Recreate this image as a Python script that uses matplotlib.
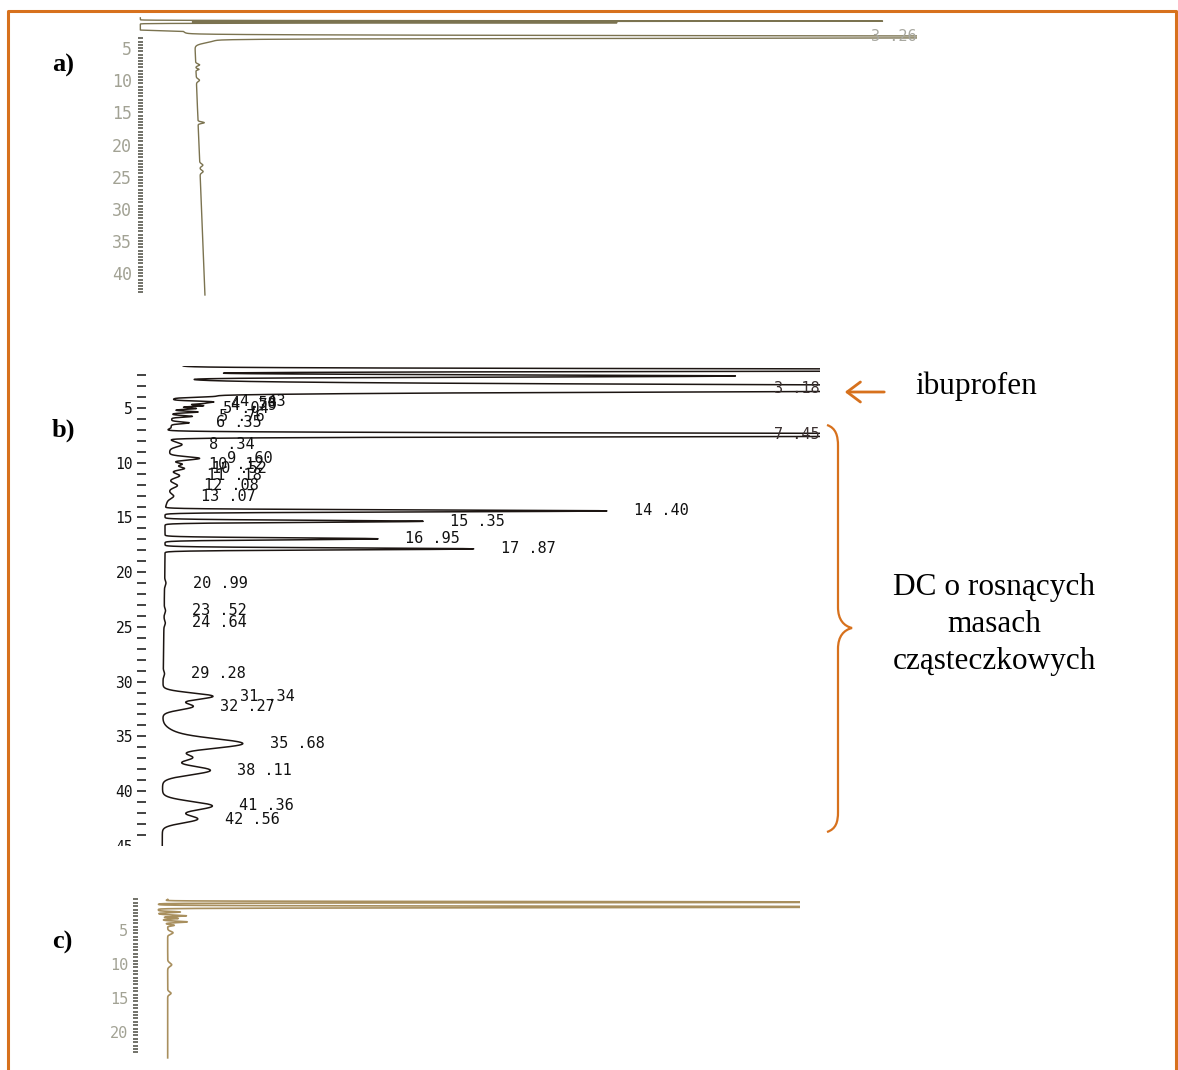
import numpy as np
import matplotlib
matplotlib.use('Agg')
import matplotlib.pyplot as plt
from matplotlib.patches import FancyArrowPatch, PathPatch
from matplotlib.path import Path
from matplotlib.transforms import Bbox, TransformedBbox

W, H = 1178, 1070
ORANGE = '#d7711d'
MONO = 'DejaVu Sans Mono'
SERIF = 'Liberation Serif'

# Chromatogram a) - retention time (min), response (% full scale), peak width (min)
a_peak_t = [0.80, 1.05, 3.26, 3.70, 7.60, 8.30, 10.0, 16.6, 23.2, 24.2]
a_peak_h = [95.3, 61.2, 150.0, 3.0, 0.5, 0.4, 0.4, 0.8, 0.4, 0.4]
a_peak_w = [0.05, 0.05, 0.15, 0.40, 0.15, 0.10, 0.20, 0.12, 0.20, 0.20]
a_base_t = [-0.3, 2.2, 2.4, 4.2, 43.6]
a_base_y = [0.3, 0.3, 5.8, 7.3, 8.6]
a_labelled = [3.26]

# Chromatogram b)
b_peak_t = [1.53, 2.07, 3.18, 3.95, 4.43, 4.58, 4.79, 5.04, 5.36, 5.76, 6.35,
            7.45, 8.34, 9.60, 10.12, 10.52, 11.18, 12.08, 13.07,
            14.40, 15.35, 16.95, 17.87, 20.99, 23.52, 24.64, 29.28,
            31.34, 32.27, 34.80, 35.68, 36.95, 38.11, 41.36, 42.56]
b_peak_h = [170.0, 81.0, 190.0, 4.0, 5.5, 4.0, 4.5, 3.5, 3.8, 3.0, 2.6,
            190.0, 1.8, 4.4, 1.8, 2.2, 1.5, 1.2, 0.7,
            64.7, 37.8, 31.2, 45.2, 0.2, 0.2, 0.2, 0.2,
            7.3, 4.4, 1.5, 11.4, 4.1, 7.0, 7.3, 5.1]
b_peak_w = [0.10, 0.10, 0.25, 0.07, 0.07, 0.07, 0.07, 0.07, 0.07, 0.07, 0.08,
            0.12, 0.20, 0.15, 0.12, 0.15, 0.20, 0.20, 0.20,
            0.09, 0.09, 0.09, 0.09, 0.20, 0.20, 0.20, 0.20,
            0.30, 0.30, 0.50, 0.45, 0.30, 0.40, 0.40, 0.35]
b_base_t = [1.2, 3.6, 4.0, 6.8, 7.1, 8.0, 13.0, 14.2, 18.5, 30.5, 45.0]
b_base_y = [6.6, 6.6, 5.3, 5.0, 4.1, 4.8, 4.7, 4.1, 4.1, 3.8, 3.7]
b_labelled = [3.18, 4.43, 4.58, 4.79, 5.04, 5.76, 6.35, 7.45, 8.34, 9.60,
              10.12, 10.52, 11.18, 12.08, 13.07, 14.40, 15.35, 16.95, 17.87,
              20.99, 23.52, 24.64, 29.28, 31.34, 32.27, 35.68, 38.11,
              41.36, 42.56]

# Chromatogram c)
c_peak_t = [0.90, 1.60, 2.35, 2.90, 3.30, 3.80, 4.30, 5.40, 10.1, 14.3]
c_peak_h = [120.0, 130.0, 3.3, 4.0, 2.5, 3.5, 1.2, 0.8, 0.6, 0.5]
c_peak_w = [0.07, 0.09, 0.08, 0.10, 0.08, 0.10, 0.10, 0.20, 0.25, 0.20]
c_base_t = [0.5, 1.2, 2.6, 4.6, 23.8]
c_base_y = [5.2, 3.8, 3.8, 5.2, 5.2]


def trace(t, base_t, base_y, peak_t, peak_h, peak_w):
    y = np.interp(t, base_t, base_y)
    for c, h, w in zip(peak_t, peak_h, peak_w):
        y = y + h * np.exp(-0.5 * ((t - c) / w) ** 2)
    return y


def rt_label(v):
    # recorder prints retention times as "14 .40"
    return f"{v:.2f}".replace('.', ' .')


def px_axes(fig, x0, x1, y0, y1):
    return fig.add_axes([x0 / W, 1 - y1 / H, (x1 - x0) / W, (y1 - y0) / H],
                        facecolor='none')


def style_axis(ax, ticks, tlim, length, size, tcolor, lcolor, pad):
    ax.set_xlim(0, 100)
    ax.set_ylim(tlim[1], tlim[0])
    ax.set_yticks(ticks)
    ax.set_yticklabels([f"{v:g}" if v % 5 == 0 else "" for v in ticks],
                       family=MONO, fontsize=size, color=lcolor)
    ax.tick_params(axis='y', direction='in', length=length, width=1.2,
                   color=tcolor, pad=pad)
    ax.set_xticks([])
    for s in ax.spines.values():
        s.set_visible(False)


fig = plt.figure(figsize=(W / 100, H / 100), dpi=100)

# page layer in pixel units: frame, panel letters, annotations
ov = fig.add_axes([0, 0, 1, 1], zorder=-1)
ov.set_xlim(0, W)
ov.set_ylim(H, 0)
ov.axis('off')
ov.plot([8, 8, 1176, 1176], [1070, 11, 11, 1070], color=ORANGE, lw=2.2)

for lab, yy in [('a)', 65), ('b)', 430), ('c)', 942)]:
    ov.text(52, yy, lab, family=SERIF, fontsize=19, fontweight='bold',
            va='center', ha='left')

ov.text(915, 386, 'ibuprofen', family=SERIF, fontsize=22.5, va='center')
ov.add_patch(FancyArrowPatch((887, 392), (842, 392),
                             arrowstyle='->,head_length=0.6,head_width=0.45',
                             mutation_scale=16, lw=2, color=ORANGE))

dc_lines = ['DC o rosnących', 'masach', 'cząsteczkowych']
for i, line in enumerate(dc_lines):
    ov.text(994, 587 + 37.5 * i, line, family=SERIF, fontsize=22.5,
            ha='center', va='center')

M, C4, L = Path.MOVETO, Path.CURVE4, Path.LINETO
brace = Path([(827, 425), (836, 428), (838, 436), (838, 446),
              (838, 607),
              (838, 620), (844, 626), (852, 628),
              (844, 630), (838, 636), (838, 649),
              (838, 812),
              (838, 822), (836, 829), (827, 832)],
             [M, C4, C4, C4, L, C4, C4, C4, C4, C4, C4, L, C4, C4, C4])
ov.add_patch(PathPatch(brace, fill=False, edgecolor=ORANGE, lw=1.6))

# ---- a) ----
ax_a = px_axes(fig, 138, 917, 14, 296)
style_axis(ax_a, np.arange(3.5, 43.01, 0.5), (-0.30, 43.56), 3.6, 12,
           '#5a5a50', '#a2a294', 4.3)
t_a = np.linspace(0.3, 43.4, 8000)
ax_a.plot(trace(t_a, a_base_t, a_base_y, a_peak_t, a_peak_h, a_peak_w), t_a,
          color='#7b7350', lw=1.0)
for rt in a_labelled:
    ax_a.annotate(rt_label(rt), (100, rt), ha='right', va='center',
                  family=MONO, fontsize=11, color='#a8a8a0',
                  annotation_clip=False)

# ---- b) ----
ax_b = px_axes(fig, 137, 820, 366, 846)
style_axis(ax_b, np.arange(2, 44.01, 1), (1.16, 45.02), 6.5, 10.5,
           '#222222', '#111111', 2.9)
t_b = np.linspace(1.16, 45.0, 12000)
sig_b = trace(t_b, b_base_t, b_base_y, b_peak_t, b_peak_h, b_peak_w)
ax_b.plot(sig_b, t_b, color='#1c1512', lw=1.1)
for rt in b_labelled:
    top = trace(np.array([rt]), b_base_t, b_base_y,
                b_peak_t, b_peak_h, b_peak_w)[0]
    if top >= 100:
        ax_b.annotate(rt_label(rt), (100, rt), ha='right', va='center',
                      family=MONO, fontsize=11, color='#3a3030',
                      annotation_clip=False)
    else:
        ax_b.annotate(rt_label(rt), (top, rt), xytext=(19.4, 0),
                      textcoords='offset points', ha='left', va='center',
                      family=MONO, fontsize=11, color='#111111')

# last scale label runs off the bottom of the strip
lab45 = ax_b.annotate('45', (0, 45), xycoords=ax_b.get_yaxis_transform(),
                      xytext=(-2.9, 0), textcoords='offset points',
                      ha='right', va='center_baseline', family=MONO,
                      fontsize=10.5, color='#111111')
lab45.set_clip_path(None)
lab45.set_clip_box(TransformedBbox(Bbox([[0, 1 - 846 / H], [1, 1]]),
                                   fig.transFigure))
lab45.set_clip_on(True)

# ---- c) ----
ax_c = px_axes(fig, 133, 800, 895, 1062)
style_axis(ax_c, np.arange(0.5, 23.01, 0.5), (-0.15, 24.41), 3.6, 11,
           '#5a5a50', '#a2a294', 3.6)
t_c = np.linspace(0.5, 23.8, 8000)
ax_c.plot(trace(t_c, c_base_t, c_base_y, c_peak_t, c_peak_h, c_peak_w), t_c,
          color='#a88f5e', lw=1.2)

fig.savefig('out.png', dpi=100)
